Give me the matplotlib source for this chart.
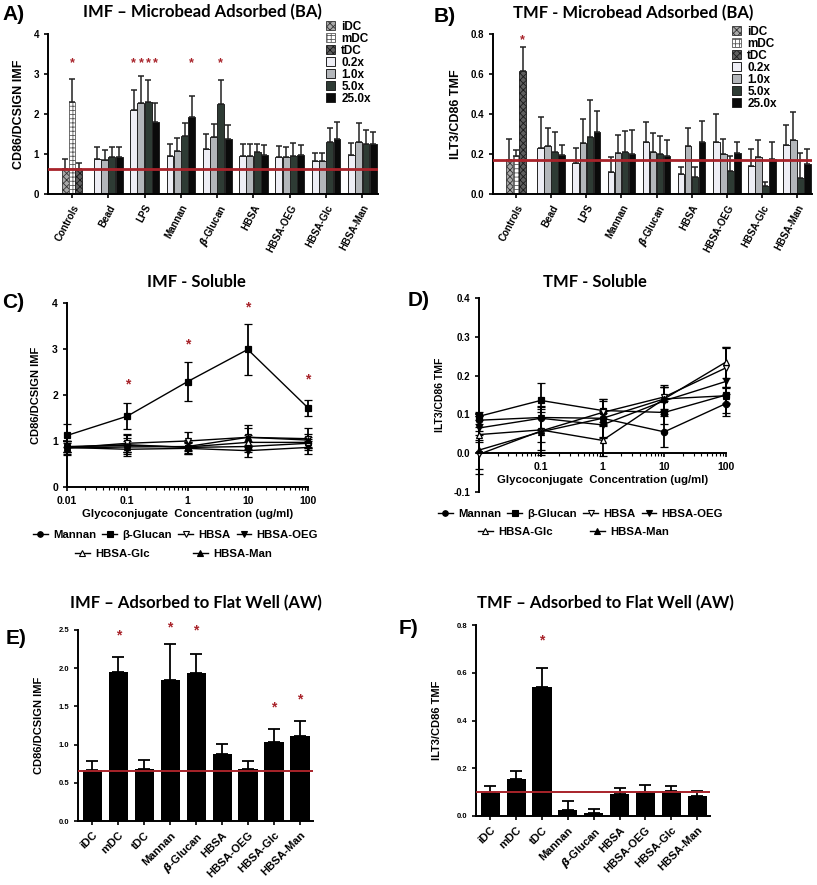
import numpy as np
import matplotlib
matplotlib.use('Agg')
import matplotlib.pyplot as plt
from matplotlib.patches import Patch
from matplotlib.lines import Line2D
from matplotlib.ticker import LogLocator, NullFormatter, FixedLocator, FixedFormatter

plt.rcParams['font.family'] = ['Liberation Sans', 'DejaVu Sans']
plt.rcParams['font.weight'] = 'bold'
plt.rcParams['axes.labelweight'] = 'bold'
plt.rcParams['hatch.linewidth'] = 0.6
plt.rcParams['mathtext.default'] = 'it'

RED = '#a8232a'
TITLE_FONT = ['Lato', 'DejaVu Sans']

# ---------------- data: microbead adsorbed (A, B) ----------------
ba_groups = ['Controls', 'Bead', 'LPS', 'Mannan', r'$\beta$-Glucan', 'HBSA',
             'HBSA-OEG', 'HBSA-Glc', 'HBSA-Man']
ctrl_labels = ['iDC', 'mDC', 'tDC']
dose_labels = ['0.2x', '1.0x', '5.0x', '25.0x']

# IMF (A): controls then dose series for Bead..HBSA-Man
imf_ctrl = [0.63, 2.30, 0.62]
imf_ctrl_err = [0.245, 0.58, 0.16]
imf_ba_02 = [0.875, 2.11, 0.96, 1.13, 0.94, 0.92, 0.82, 0.98]
imf_ba_10 = [0.86, 2.27, 1.08, 1.42, 0.96, 0.92, 0.83, 1.29]
imf_ba_50 = [0.93, 2.30, 1.46, 2.24, 1.04, 0.96, 1.30, 1.24]
imf_ba_250 = [0.93, 1.80, 1.92, 1.38, 0.98, 0.98, 1.38, 1.24]
imf_ba_02_err = [0.30, 0.50, 0.29, 0.36, 0.32, 0.29, 0.20, 0.29]
imf_ba_10_err = [0.25, 0.67, 0.31, 0.33, 0.29, 0.25, 0.20, 0.49]
imf_ba_50_err = [0.24, 0.56, 0.32, 0.62, 0.21, 0.31, 0.35, 0.35]
imf_ba_250_err = [0.25, 0.47, 0.52, 0.35, 0.25, 0.25, 0.42, 0.32]
imf_ba_baseline = 0.63
imf_ba_stars = [(0, 1), (2, 0), (2, 1), (2, 2), (2, 3), (3, 3), (4, 2)]  # (group, bar)
imf_ba_star_y = 3.27

# TMF (B)
tmf_ctrl = [0.168, 0.188, 0.613]
tmf_ctrl_err = [0.109, 0.034, 0.12]
tmf_ba_02 = [0.23, 0.155, 0.11, 0.258, 0.102, 0.26, 0.142, 0.243]
tmf_ba_10 = [0.238, 0.253, 0.205, 0.212, 0.238, 0.20, 0.185, 0.272]
tmf_ba_50 = [0.21, 0.287, 0.212, 0.198, 0.087, 0.117, 0.038, 0.08]
tmf_ba_250 = [0.197, 0.31, 0.20, 0.19, 0.26, 0.203, 0.177, 0.152]
tmf_ba_02_err = [0.153, 0.073, 0.075, 0.104, 0.035, 0.142, 0.085, 0.10]
tmf_ba_10_err = [0.09, 0.124, 0.092, 0.091, 0.092, 0.073, 0.085, 0.138]
tmf_ba_50_err = [0.10, 0.185, 0.101, 0.09, 0.046, 0.073, 0.02, 0.123]
tmf_ba_250_err = [0.05, 0.103, 0.118, 0.08, 0.103, 0.055, 0.083, 0.075]
tmf_ba_baseline = 0.168
tmf_ba_stars = [(0, 2)]
tmf_ba_star_y = 0.77

# ---------------- data: soluble (C, D) ----------------
conc = [0.01, 0.1, 1, 10, 100]
sol_names = ['Mannan', 'β-Glucan', 'HBSA', 'HBSA-OEG', 'HBSA-Glc', 'HBSA-Man']
sol_markers = ['o', 's', 'v', 'v', '^', '^']
sol_filled = [True, True, False, True, False, True]

imf_sol = [
    [0.87, 0.92, 0.86, 0.88, 0.95],
    [1.12, 1.54, 2.29, 2.99, 1.72],
    [0.85, 0.95, 1.00, 1.08, 1.05],
    [0.86, 0.82, 0.84, 0.79, 0.86],
    [0.88, 0.90, 0.87, 0.97, 0.97],
    [0.85, 0.87, 0.88, 1.08, 1.02],
]
imf_sol_err = [
    [0.12, 0.15, 0.12, 0.12, 0.10],
    [0.25, 0.28, 0.42, 0.56, 0.18],
    [0.15, 0.20, 0.20, 0.27, 0.24],
    [0.15, 0.10, 0.12, 0.13, 0.15],
    [0.12, 0.22, 0.15, 0.15, 0.12],
    [0.10, 0.12, 0.10, 0.20, 0.14],
]
imf_sol_star_x = [0.1, 1, 10, 100]
imf_sol_star_y = [2.22, 3.09, 3.91, 2.34]

tmf_sol = [
    [0.085, 0.092, 0.090, 0.055, 0.128],
    [0.095, 0.136, 0.110, 0.105, 0.150],
    [-0.003, 0.057, 0.105, 0.145, 0.220],
    [0.065, 0.090, 0.073, 0.135, 0.185],
    [0.048, 0.060, 0.033, 0.140, 0.235],
    [0.008, 0.055, 0.090, 0.140, 0.148],
]
tmf_sol_err = [
    [0.010, 0.030, 0.020, 0.040, 0.025],
    [0.010, 0.045, 0.030, 0.030, 0.020],
    [0.050, 0.050, 0.030, 0.030, 0.050],
    [0.030, 0.030, 0.030, 0.035, 0.090],
    [0.020, 0.030, 0.040, 0.030, 0.040],
    [0.050, 0.060, 0.050, 0.030, 0.020],
]

# ---------------- data: flat well (E, F) ----------------
aw_labels = ['iDC', 'mDC', 'tDC', 'Mannan', r'$\beta$-Glucan', 'HBSA',
             'HBSA-OEG', 'HBSA-Glc', 'HBSA-Man']
imf_aw = [0.664, 1.95, 0.68, 1.84, 1.94, 0.875, 0.68, 1.03, 1.11]
imf_aw_err = [0.12, 0.20, 0.12, 0.48, 0.25, 0.13, 0.10, 0.17, 0.20]
imf_aw_baseline = 0.66
imf_aw_star_idx = [1, 3, 4, 7, 8]
imf_aw_star_y = [2.43, 2.53, 2.49, 1.49, 1.59]

tmf_aw = [0.098, 0.154, 0.541, 0.025, 0.011, 0.092, 0.099, 0.105, 0.083]
tmf_aw_err = [0.026, 0.036, 0.079, 0.038, 0.018, 0.025, 0.030, 0.021, 0.023]
tmf_aw_baseline = 0.10
tmf_aw_star_idx = [2]
tmf_aw_star_y = [0.734]

# ---------------- figure ----------------
W, H = 817, 885
fig = plt.figure(figsize=(W / 100, H / 100), dpi=100)


def px_axes(x0, y0, x1, y1):
    return fig.add_axes([x0 / W, 1 - y1 / H, (x1 - x0) / W, (y1 - y0) / H])


def style(ax, lw=1.4):
    for s in ['top', 'right']:
        ax.spines[s].set_visible(False)
    for s in ['left', 'bottom']:
        ax.spines[s].set_linewidth(lw)
    ax.tick_params(width=1.2, length=3, direction='out')


def fig_text(x, y, s, **kw):
    fig.text(x / W, 1 - y / H, s, **kw)


ctrl_face = ['#a8a8a8', 'white', '#5e5e5e']
ctrl_hatch = ['xxxxx', '++++', 'xxxxx']
ctrl_edge = ['#333333', '#5a5a5a', '#1a1a1a']
dose_face = ['#eeeef5', '#b3b6ba', '#2e3b34', '#0a0a0a']

err_kw = dict(elinewidth=1.1, capthick=1.1, ecolor='#222222')


def ba_panel(ax, ctrl, ctrl_err, doses, dose_errs, baseline, stars, star_y,
             ymax, yticks, yfmt, ylabel):
    w = 0.19
    for i in range(3):
        x = (i - 1) * w
        ax.bar(x, ctrl[i], w, color=ctrl_face[i], hatch=ctrl_hatch[i],
               edgecolor=ctrl_edge[i], linewidth=0.6,
               yerr=[[0], [ctrl_err[i]]], capsize=2.2, error_kw=err_kw, zorder=2)
    gx = np.arange(1, 9)
    for j in range(4):
        off = (j - 1.5) * 0.2
        ax.bar(gx + off, doses[j], w, color=dose_face[j], edgecolor='#222222',
               linewidth=0.7, yerr=[np.zeros(8), dose_errs[j]], capsize=2.2,
               error_kw=err_kw, zorder=2)
    ax.axhline(baseline, color=RED, lw=2.0, zorder=4)
    for g, b in stars:
        x = (b - 1) * w if g == 0 else g + (b - 1.5) * 0.2
        ax.text(x, star_y, '*', color=RED, ha='center', va='center', fontsize=9)
    ax.set_xlim(-0.66, 8.43)
    ax.set_ylim(0, ymax)
    ax.set_yticks(yticks)
    ax.set_yticklabels([yfmt.format(t) for t in yticks], fontsize=7)
    ax.set_xticks(np.arange(9))
    ax.set_xticklabels(ba_groups, rotation=62, ha='right', rotation_mode='anchor',
                       fontsize=7)
    ax.set_ylabel(ylabel, fontsize=9, labelpad=6)
    style(ax)


def ba_legend(x, y):
    handles = [Patch(facecolor=ctrl_face[i], hatch=ctrl_hatch[i], edgecolor=ctrl_edge[i],
                     linewidth=0.6) for i in range(3)]
    handles += [Patch(facecolor=dose_face[j], edgecolor='#222222', linewidth=0.7)
                for j in range(4)]
    fig.legend(handles, ctrl_labels + dose_labels, loc='upper left',
               bbox_to_anchor=(x / W, 1 - y / H), frameon=False, fontsize=8.5,
               handlelength=0.8, handleheight=0.8, handletextpad=0.5,
               labelspacing=0.0, borderpad=0, borderaxespad=0)


# A
axA = px_axes(48, 34, 378, 194)
ba_panel(axA, imf_ctrl, imf_ctrl_err,
         [imf_ba_02, imf_ba_10, imf_ba_50, imf_ba_250],
         [imf_ba_02_err, imf_ba_10_err, imf_ba_50_err, imf_ba_250_err],
         imf_ba_baseline, imf_ba_stars, imf_ba_star_y,
         4, [0, 1, 2, 3, 4], '{:g}', 'CD86/DCSIGN IMF')
ba_legend(326, 21)

# B
axB = px_axes(493, 34, 812, 194)
ba_panel(axB, tmf_ctrl, tmf_ctrl_err,
         [tmf_ba_02, tmf_ba_10, tmf_ba_50, tmf_ba_250],
         [tmf_ba_02_err, tmf_ba_10_err, tmf_ba_50_err, tmf_ba_250_err],
         tmf_ba_baseline, tmf_ba_stars, tmf_ba_star_y,
         0.8, [0, 0.2, 0.4, 0.6, 0.8], '{:.1f}', 'ILT3/CD86 TMF')
ba_legend(732, 26)


def sol_panel(ax, vals, errs):
    for k in range(6):
        mfc = 'black' if sol_filled[k] else 'white'
        ax.errorbar(conc, vals[k], yerr=errs[k], color='black', lw=1.0,
                    marker=sol_markers[k], ms=4.5, mfc=mfc, mec='black', mew=0.9,
                    capsize=3, elinewidth=1.3, capthick=1.3, zorder=3, clip_on=False)
    ax.set_xscale('log')
    ax.set_xlim(0.01, 100)
    ax.xaxis.set_minor_locator(LogLocator(base=10, subs=np.arange(2, 10)))
    ax.xaxis.set_minor_formatter(NullFormatter())
    ax.tick_params(axis='x', which='minor', length=2, width=0.8)
    style(ax)
    ax.set_xlabel('Glycoconjugate  Concentration (ug/ml)', fontsize=8.2, labelpad=2)


def sol_legend(y1, y2, x1, x2, x3):
    handles = [Line2D([0], [0], color='black', lw=1.0, marker=sol_markers[k], ms=4,
                      mfc='black' if sol_filled[k] else 'white', mec='black', mew=0.8)
               for k in range(6)]
    common = dict(frameon=False, fontsize=8.2, handlelength=1.3, handletextpad=0.45,
                  borderpad=0, borderaxespad=0, loc='center left')
    fig.legend(handles[:4], sol_names[:4], ncol=4, columnspacing=0.55,
               bbox_to_anchor=(x1 / W, 1 - y1 / H), **common)
    fig.legend(handles[4:5], sol_names[4:5], bbox_to_anchor=(x2 / W, 1 - y2 / H), **common)
    fig.legend(handles[5:6], sol_names[5:6], bbox_to_anchor=(x3 / W, 1 - y2 / H), **common)


# C
axC = px_axes(67, 303, 308, 487)
sol_panel(axC, imf_sol, imf_sol_err)
axC.set_ylim(0, 4)
axC.set_yticks([0, 1, 2, 3, 4])
axC.set_xticks(conc)
axC.set_xticklabels(['0.01', '0.1', '1', '10', '100'], fontsize=7.5)
axC.tick_params(axis='y', labelsize=7.5)
axC.set_ylabel('CD86/DCSIGN IMF', fontsize=8, labelpad=8)
for sx, sy in zip(imf_sol_star_x, imf_sol_star_y):
    axC.text(sx, sy, '*', color=RED, ha='center', va='center', fontsize=10)
sol_legend(535, 554, 33, 75, 193)

# D
axD = px_axes(479, 298, 726, 492)
sol_panel(axD, tmf_sol, tmf_sol_err)
axD.set_ylim(-0.1, 0.4)
axD.set_yticks([-0.1, 0.0, 0.1, 0.2, 0.3, 0.4])
axD.set_yticklabels(['-0.1', '0.0', '0.1', '0.2', '0.3', '0.4'], fontsize=7)
axD.spines['bottom'].set_position(('data', 0))
axD.xaxis.set_major_locator(FixedLocator([0.1, 1, 10, 100]))
axD.xaxis.set_major_formatter(FixedFormatter(['0.1', '1', '10', '100']))
axD.tick_params(axis='x', labelsize=7.5)
axD.set_ylabel('ILT3/CD86 TMF', fontsize=7.5, labelpad=6)
sol_legend(514, 532, 438, 478, 590)


def aw_panel(ax, vals, errs, baseline, star_idx, star_y, ymax, yticks, yfmt, ylabel):
    x = np.arange(9)
    ax.bar(x, vals, 0.74, color='black', yerr=[np.zeros(9), errs], capsize=4,
           error_kw=dict(elinewidth=1.3, capthick=1.3, ecolor='black'), zorder=2)
    ax.axhline(baseline, color=RED, lw=1.4, zorder=4)
    for i, sy in zip(star_idx, star_y):
        ax.text(i, sy, '*', color=RED, ha='center', va='center', fontsize=10)
    ax.set_xlim(-0.55, 8.5)
    ax.set_ylim(0, ymax)
    ax.set_yticks(yticks)
    ax.set_yticklabels([yfmt.format(t) for t in yticks], fontsize=5.5)
    ax.set_xticks(x)
    ax.set_xticklabels(aw_labels, rotation=45, ha='right', rotation_mode='anchor',
                       fontsize=8)
    ax.set_ylabel(ylabel, fontsize=8, labelpad=10)
    style(ax)


# E
axE = px_axes(78, 630, 313, 821)
aw_panel(axE, imf_aw, imf_aw_err, imf_aw_baseline, imf_aw_star_idx, imf_aw_star_y,
         2.5, [0, 0.5, 1.0, 1.5, 2.0, 2.5], '{:.1f}', 'CD86/DCSIGN IMF')

# F
axF = px_axes(476, 625, 710, 816)
aw_panel(axF, tmf_aw, tmf_aw_err, tmf_aw_baseline, tmf_aw_star_idx, tmf_aw_star_y,
         0.8, [0, 0.2, 0.4, 0.6, 0.8], '{:.1f}', 'ILT3/CD86 TMF')

# titles and panel letters
tkw = dict(ha='center', va='center', fontsize=12, fontweight='bold', family=TITLE_FONT)
fig_text(202, 12, 'IMF – Microbead Adsorbed (BA)', **tkw)
fig_text(633, 13, 'TMF - Microbead Adsorbed (BA)', **tkw)
fig_text(196, 282, 'IMF - Soluble', **tkw)
fig_text(595, 282, 'TMF - Soluble', **tkw)
fig_text(196, 603, 'IMF – Adsorbed to Flat Well (AW)', **tkw)
fig_text(605, 603, 'TMF – Adsorbed to Flat Well (AW)', **tkw)

lkw = dict(ha='left', va='center', fontsize=15, fontweight='bold')
fig_text(2, 15, 'A)', **lkw)
fig_text(434, 17, 'B)', **lkw)
fig_text(2, 302, 'C)', **lkw)
fig_text(408, 300, 'D)', **lkw)
fig_text(6, 638, 'E)', **lkw)
fig_text(399, 628, 'F)', **lkw)

fig.savefig('out.png', dpi=100)
